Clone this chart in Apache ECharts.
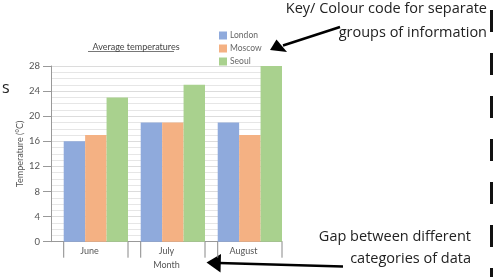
<!DOCTYPE html>
<html><head><meta charset="utf-8">
<script src="https://cdn.jsdelivr.net/npm/echarts@6/dist/echarts.min.js"></script>
<style>html,body{margin:0;padding:0;background:#fff}#c{width:494px;height:277px}</style>
</head><body><div id="c"></div>
<script>
const categories = ['June', 'July', 'August'];
const london = [16, 19, 19];
const moscow = [17, 19, 17];
const seoul = [23, 25, 28];
const seriesNames = ['London', 'Moscow', 'Seoul'];
const yTicks = [0, 4, 8, 12, 16, 20, 24, 28];

const colors = ['#8FAADC', '#F4B183', '#A9D18E'];
const gapFrac = 0.165;
const barPct = ((1 - gapFrac) / 3 * 100).toFixed(3) + '%';
const hand = '"Open Sans", "DejaVu Sans", sans-serif';
const font = 'Lato, "Open Sans", sans-serif';

const chart = echarts.init(document.getElementById('c'), null, {renderer: 'canvas'});

function barSeries(name, data, color) {
  return {name, type: 'bar', data, barWidth: barPct, barGap: 0,
    itemStyle: {color}, silent: true, animation: false};
}

chart.setOption({
  animation: false,
  grid: {left: 51, right: 212, top: 66, bottom: 35.3, containLabel: false},
  legend: {
    data: seriesNames, orient: 'vertical', left: 214, top: 26,
    icon: 'rect', itemWidth: 8, itemHeight: 8, itemGap: 4,
    textStyle: {fontSize: 8.5, color: '#666', fontFamily: font, padding: [0,0,0,-2]}
  },
  title: {
    text: 'Average temperatures', left: 131, top: 38, textAlign: 'center',
    textStyle: {fontSize: 9, fontWeight: 'normal', color: '#444', fontFamily: font}
  },
  xAxis: {
    type: 'category', data: categories,
    axisLine: {show: true, lineStyle: {color: '#999', width: 1}},
    axisTick: {show: false},
    axisLabel: {margin: 5, fontSize: 9, color: '#555', fontFamily: font},
    name: 'Month', nameLocation: 'middle', nameGap: 19,
    nameTextStyle: {fontSize: 9, color: '#555', fontFamily: font},
    splitLine: {show: false}
  },
  yAxis: {
    type: 'value', min: yTicks[0], max: yTicks[yTicks.length - 1], interval: 4,
    axisLine: {show: true, lineStyle: {color: '#999'}},
    axisTick: {show: true, length: 8, lineStyle: {color: '#999'}},
    axisLabel: {margin: 11, fontSize: 9.5, color: '#555', fontFamily: font},
    splitLine: {show: true, lineStyle: {color: '#dcdcdc', width: 1}},
    minorTick: {show: false, splitNumber: 4},
    minorSplitLine: {show: true, lineStyle: {color: '#e6e6e6', width: 1}},
    name: 'Temperature (°C)', nameLocation: 'middle', nameGap: 26,
    nameTextStyle: {fontSize: 9, color: '#555', fontFamily: font}
  },
  series: [
    {name: '_gap', type: 'bar', data: categories.map(() => 0), barWidth: (gapFrac*100)+'%', barGap: 0,
      itemStyle: {color: 'rgba(0,0,0,0)'}, silent: true},
    barSeries(seriesNames[0], london, colors[0]),
    barSeries(seriesNames[1], moscow, colors[1]),
    barSeries(seriesNames[2], seoul, colors[2]),
    {
      type: 'custom', silent: true, clip: false, z: 5,
      data: categories.map((c, i) => [i, 0]),
      encode: {x: 0, y: 1},
      renderItem: function (params, api) {
        const c = api.coord([api.value(0), 0]);
        const bw = api.size([1, 0])[0];
        const l = c[0] - bw / 2 + bw * gapFrac;
        const r = c[0] + bw / 2;
        const st = {stroke: '#888', lineWidth: 1};
        return {type: 'group', children: [
          {type: 'line', shape: {x1: l, y1: c[1], x2: l, y2: c[1] + 16}, style: st},
          {type: 'line', shape: {x1: r, y1: c[1], x2: r, y2: c[1] + 16}, style: st}
        ]};
      }
    }
  ],
  graphic: [
    {type: 'line', shape: {x1: 88, y1: 51.5, x2: 174, y2: 51.5}, style: {stroke: '#555', lineWidth: 0.8}},
    {type: 'text', left: 2, top: 80, style: {text: 's', font: '16px ' + hand, fill: '#222'}},
    {type: 'text', right: 7, top: 1, style: {text: 'Key/ Colour code for separate', font: '14.5px ' + hand, fill: '#222', textAlign: 'right'}},
    {type: 'text', right: 7, top: 25, style: {text: 'groups of information', font: '14.5px ' + hand, fill: '#222', textAlign: 'right'}},
    {type: 'text', right: 23, top: 229, style: {text: 'Gap between different', font: '14.5px ' + hand, fill: '#222', textAlign: 'right'}},
    {type: 'text', right: 23, top: 251, style: {text: 'categories of data', font: '14.5px ' + hand, fill: '#222', textAlign: 'right'}},
    {type: 'line', shape: {x1: 340, y1: 27, x2: 283, y2: 45.5}, style: {stroke: '#000', lineWidth: 2.5}},
    {type: 'polygon', shape: {points: [[270, 50], [276.5, 39.5], [287, 52]]}, style: {fill: '#000'}},
    {type: 'line', shape: {x1: 343, y1: 266.5, x2: 219, y2: 263}, style: {stroke: '#000', lineWidth: 2.5}},
    {type: 'polygon', shape: {points: [[206.5, 262.5], [221, 254], [220.5, 272.5]]}, style: {fill: '#000'}},
    {type: 'line', shape: {x1: 491.5, y1: 10, x2: 491.5, y2: 277}, style: {stroke: '#111', lineWidth: 3, lineDash: [22, 21]}}
  ]
});
</script></body></html>
